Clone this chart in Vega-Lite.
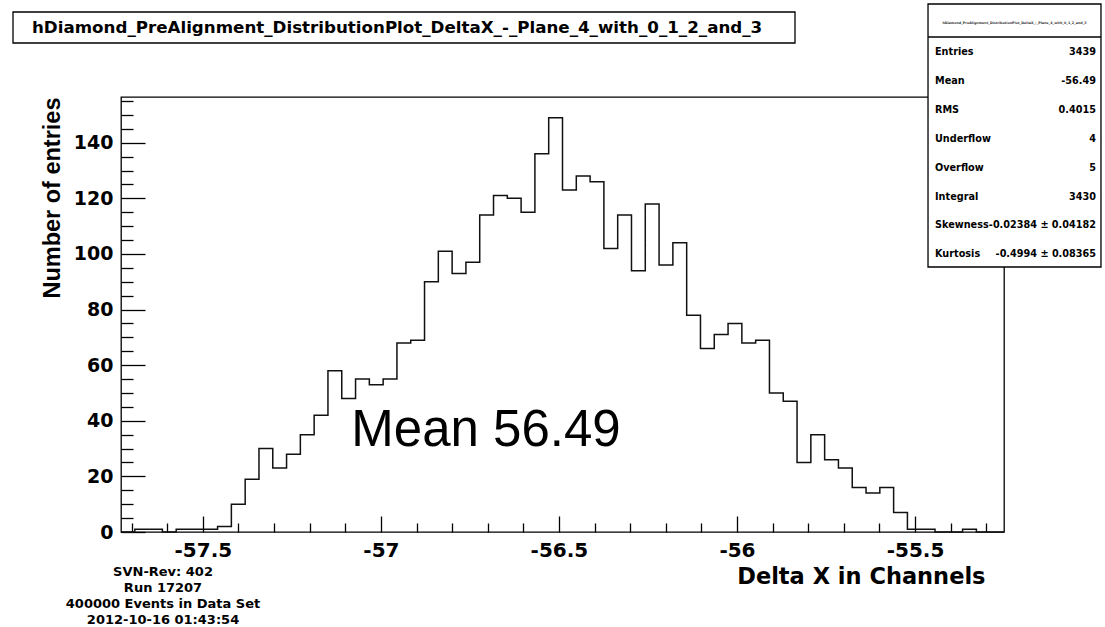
{
  "$schema": "https://vega.github.io/schema/vega-lite/v6.json",
  "width": 883,
  "height": 435,
  "autosize": {"type": "none"},
  "padding": {"left": 121, "top": 97, "right": 101, "bottom": 95},
  "background": "white",
  "config": {
    "view": {"stroke": "black", "strokeWidth": 1.3},
    "font": "DejaVu Sans",
    "axis": {"grid": false, "domain": false, "labelColor": "black", "tickColor": "black", "titleColor": "black"}
  },
  "datasets": {
    "hist": [
      {"lo": -57.73, "n": 0}, {"lo": -57.69125, "n": 1}, {"lo": -57.6525, "n": 1}, {"lo": -57.61375, "n": 0},
      {"lo": -57.575, "n": 1}, {"lo": -57.53625, "n": 1}, {"lo": -57.4975, "n": 1}, {"lo": -57.45875, "n": 2},
      {"lo": -57.42, "n": 10}, {"lo": -57.38125, "n": 19}, {"lo": -57.3425, "n": 30}, {"lo": -57.30375, "n": 23},
      {"lo": -57.265, "n": 28}, {"lo": -57.22625, "n": 35}, {"lo": -57.1875, "n": 42}, {"lo": -57.14875, "n": 58},
      {"lo": -57.11, "n": 48}, {"lo": -57.07125, "n": 55}, {"lo": -57.0325, "n": 53}, {"lo": -56.99375, "n": 55},
      {"lo": -56.955, "n": 68}, {"lo": -56.91625, "n": 69}, {"lo": -56.8775, "n": 90}, {"lo": -56.83875, "n": 101},
      {"lo": -56.8, "n": 93}, {"lo": -56.76125, "n": 97}, {"lo": -56.7225, "n": 114}, {"lo": -56.68375, "n": 121},
      {"lo": -56.645, "n": 120}, {"lo": -56.60625, "n": 115}, {"lo": -56.5675, "n": 136}, {"lo": -56.52875, "n": 149},
      {"lo": -56.49, "n": 123}, {"lo": -56.45125, "n": 128}, {"lo": -56.4125, "n": 126}, {"lo": -56.37375, "n": 102},
      {"lo": -56.335, "n": 114}, {"lo": -56.29625, "n": 94}, {"lo": -56.2575, "n": 118}, {"lo": -56.21875, "n": 96},
      {"lo": -56.18, "n": 104}, {"lo": -56.14125, "n": 78}, {"lo": -56.1025, "n": 66}, {"lo": -56.06375, "n": 71},
      {"lo": -56.025, "n": 75}, {"lo": -55.98625, "n": 68}, {"lo": -55.9475, "n": 69}, {"lo": -55.90875, "n": 50},
      {"lo": -55.87, "n": 47}, {"lo": -55.83125, "n": 25}, {"lo": -55.7925, "n": 35}, {"lo": -55.75375, "n": 26},
      {"lo": -55.715, "n": 23}, {"lo": -55.67625, "n": 16}, {"lo": -55.6375, "n": 14}, {"lo": -55.59875, "n": 16},
      {"lo": -55.56, "n": 7}, {"lo": -55.52125, "n": 1}, {"lo": -55.4825, "n": 1}, {"lo": -55.44375, "n": 0},
      {"lo": -55.405, "n": 0}, {"lo": -55.36625, "n": 1}, {"lo": -55.3275, "n": 0}, {"lo": -55.28875, "n": 0},
      {"lo": -55.25, "n": 0}
    ]
  },
  "layer": [
    {
      "data": {"name": "hist"},
      "mark": {"type": "line", "interpolate": "step-after", "color": "#111111", "strokeWidth": 1.5},
      "encoding": {
        "x": {
          "field": "lo", "type": "quantitative",
          "scale": {"domain": [-57.73, -55.25], "nice": false, "zero": false},
          "axis": {
            "orient": "bottom", "values": [-57.5, -57, -56.5, -56, -55.5],
            "labelExpr": "'' + datum.value", "ticks": false, "labelPadding": 8,
            "labelFont": "DejaVu Sans", "labelFontWeight": "bold", "labelFontSize": 20,
            "title": "Delta X in Channels", "titleFont": "DejaVu Sans", "titleFontWeight": "bold",
            "titleFontSize": 22.5, "titleAnchor": "end", "titleAlign": "right",
            "titleX": 864, "titleY": 51, "titleBaseline": "alphabetic"
          }
        },
        "y": {
          "field": "n", "type": "quantitative",
          "scale": {"domain": [0, 156.45], "nice": false},
          "axis": {
            "orient": "left", "values": [0, 20, 40, 60, 80, 100, 120, 140],
            "labelExpr": "'' + datum.value", "ticks": false, "labelPadding": 8,
            "labelFont": "DejaVu Sans", "labelFontWeight": "bold", "labelFontSize": 19,
            "title": "Number of entries", "titleFont": "Liberation Sans", "titleFontWeight": "bold",
            "titleFontSize": 23.5, "titleAnchor": "end", "titleAngle": 270, "titleAlign": "right",
            "titleX": -69, "titleY": 0, "titleBaseline": "middle"
          }
        }
      }
    },
    {
      "data": {"name": "hist"},
      "mark": {"type": "line", "interpolate": "step-after", "strokeOpacity": 0},
      "encoding": {
        "x": {
          "field": "lo", "type": "quantitative",
          "axis": {
            "orient": "bottom", "labels": false, "title": null, "tickWidth": 1.3,
            "values": [-57.7, -57.6, -57.5, -57.4, -57.3, -57.2, -57.1, -57, -56.9, -56.8, -56.7, -56.6, -56.5, -56.4, -56.3, -56.2, -56.1, -56, -55.9, -55.8, -55.7, -55.6, -55.5, -55.4, -55.3],
            "tickSize": {"condition": {"test": "abs(round(datum.value * 10)) % 5 == 0", "value": -16}, "value": -9}
          }
        },
        "y": {
          "field": "n", "type": "quantitative",
          "axis": {
            "orient": "left", "labels": false, "title": null, "tickWidth": 1.3,
            "values": [0, 5, 10, 15, 20, 25, 30, 35, 40, 45, 50, 55, 60, 65, 70, 75, 80, 85, 90, 95, 100, 105, 110, 115, 120, 125, 130, 135, 140, 145, 150, 155],
            "tickSize": {"condition": {"test": "datum.value % 20 == 0", "value": -24}, "value": -12}
          }
        }
      }
    },
    {
      "data": {"values": [{}]},
      "mark": {"type": "rect", "fill": "white", "stroke": "black", "strokeWidth": 1.3},
      "encoding": {
        "x": {"datum": -58.0333, "type": "quantitative", "axis": null},
        "x2": {"datum": -55.837},
        "y": {"datum": 187.02, "type": "quantitative", "axis": null},
        "y2": {"datum": 175.87}
      }
    },
    {
      "data": {"values": [{}]},
      "mark": {"type": "text", "align": "left", "baseline": "alphabetic", "font": "DejaVu Sans", "fontWeight": "bold", "fontSize": 16.7, "color": "black",
        "text": "hDiamond_PreAlignment_DistributionPlot_DeltaX_-_Plane_4_with_0_1_2_and_3"},
      "encoding": {
        "x": {"datum": -57.98, "type": "quantitative", "axis": null},
        "y": {"datum": 179.36, "type": "quantitative", "axis": null}
      }
    },
    {
      "data": {"values": [{}]},
      "mark": {"type": "rect", "fill": "white", "stroke": "black", "strokeWidth": 1.3},
      "encoding": {
        "x": {"datum": -55.4634, "type": "quantitative", "axis": null},
        "x2": {"datum": -54.9776},
        "y": {"datum": 189.9, "type": "quantitative", "axis": null},
        "y2": {"datum": 95.31}
      }
    },
    {
      "data": {"values": [{}]},
      "mark": {"type": "rule", "color": "black", "strokeWidth": 1.3},
      "encoding": {
        "x": {"datum": -55.4634, "type": "quantitative", "axis": null},
        "x2": {"datum": -54.9776},
        "y": {"datum": 178.03, "type": "quantitative", "axis": null}
      }
    },
    {
      "data": {"values": [{}]},
      "mark": {"type": "text", "align": "center", "baseline": "middle", "font": "DejaVu Sans", "fontWeight": "bold", "fontSize": 3.3, "color": "#333333",
        "text": "hDiamond_PreAlignment_DistributionPlot_DeltaX_-_Plane_4_with_0_1_2_and_3"},
      "encoding": {
        "x": {"datum": -55.2205, "type": "quantitative", "axis": null},
        "y": {"datum": 183.07, "type": "quantitative", "axis": null}
      }
    },
    {
      "data": {"values": [{}]},
      "mark": {"type": "text", "align": "left", "baseline": "alphabetic", "font": "DejaVu Sans", "fontWeight": "bold", "fontSize": 9.7, "lineHeight": 28.85, "color": "black",
        "text": ["Entries", "Mean", "RMS", "Underflow", "Overflow", "Integral", "Skewness", "Kurtosis"]},
      "encoding": {
        "x": {"datum": -55.4438, "type": "quantitative", "axis": null},
        "y": {"datum": 171.45, "type": "quantitative", "axis": null}
      }
    },
    {
      "data": {"values": [{}]},
      "mark": {"type": "text", "align": "right", "baseline": "alphabetic", "font": "DejaVu Sans", "fontWeight": "bold", "fontSize": 9.7, "lineHeight": 28.85, "color": "black",
        "text": ["3439", "-56.49", "0.4015", "4", "5", "3430", "-0.02384 ± 0.04182", "-0.4994 ± 0.08365"]},
      "encoding": {
        "x": {"datum": -54.9916, "type": "quantitative", "axis": null},
        "y": {"datum": 171.45, "type": "quantitative", "axis": null}
      }
    },
    {
      "data": {"values": [{}]},
      "mark": {"type": "text", "align": "center", "baseline": "alphabetic", "font": "Liberation Sans", "fontSize": 51, "color": "black", "text": "Mean 56.49"},
      "encoding": {
        "x": {"datum": -56.7049, "type": "quantitative", "axis": null},
        "y": {"datum": 30.93, "type": "quantitative", "axis": null}
      }
    },
    {
      "data": {"values": [{}]},
      "mark": {"type": "text", "align": "center", "baseline": "alphabetic", "font": "DejaVu Sans", "fontWeight": "bold", "fontSize": 13, "lineHeight": 16, "color": "black",
        "text": ["SVN-Rev: 402", "Run 17207", "400000 Events in Data Set", "2012-10-16 01:43:54"]},
      "encoding": {
        "x": {"datum": -57.612, "type": "quantitative", "axis": null},
        "y": {"datum": -15.82, "type": "quantitative", "axis": null}
      }
    }
  ],
  "resolve": {"axis": {"x": "independent", "y": "independent"}}
}
